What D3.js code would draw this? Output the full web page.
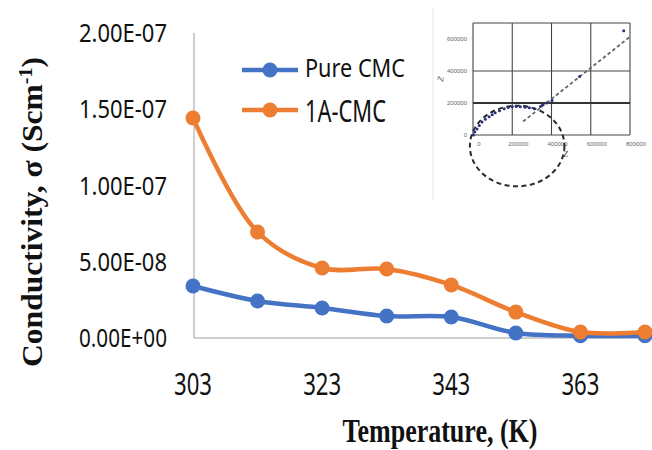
<!DOCTYPE html>
<html>
<head>
<meta charset="utf-8">
<script src="https://cdn.jsdelivr.net/npm/d3@7"></script>
<style>
  body { margin: 0; background: #fff; }
</style>
</head>
<body>
<div class="chart"></div>
<script>
// main chart data
const temps = [303, 313, 323, 333, 343, 353, 363, 373];
const pureCMC = [3.41e-8, 2.43e-8, 1.97e-8, 1.44e-8, 1.38e-8, 3.3e-9, 1.5e-9, 1.5e-9];
const cmc1A = [1.443e-7, 6.95e-8, 4.59e-8, 4.52e-8, 3.48e-8, 1.7e-8, 3.9e-9, 3.9e-9];
const seriesNames = ['Pure CMC', '1A-CMC'];
const xTicks = [303, 323, 343, 363];
const yTicks = [0, 5e-8, 1e-7, 1.5e-7, 2e-7];
const yTickLabels = ['0.00E+00', '5.00E-08', '1.00E-07', '1.50E-07', '2.00E-07'];

// inset (impedance plot) data
const insetRe = [2000, 9000, 20500, 32000, 46000, 63000, 82000, 98000, 113000, 135000, 159000, 180000, 200000, 220000, 241000, 265000, 287000, 313000, 344000, 354000, 375000, 403000, 543000, 768000];
const insetIm = [0, 18000, 38000, 60000, 82000, 99000, 114000, 127000, 139000, 152000, 164000, 172000, 177000, 178000, 177000, 174000, 170000, 164000, 178000, 189000, 200000, 215000, 366000, 652000];
const insetXTicks = [0, 200000, 400000, 600000, 800000];
const insetYTicks = [0, 200000, 400000, 600000];
const insetFit = [[255000, 84000], [803000, 617000]];
const insetCircle = {cx: 225000, cy: -69000, rx: 241000, ry: 252000};

const width = 652, height = 450;
const blue = '#4472c4', orange = '#ed7d31';

const svg = d3.select('.chart')
  .append('svg')
  .attr('width', width)
  .attr('height', height);

const xScale = d3.scaleLinear().domain([303, 373]).range([193, 645]);
const yScale = d3.scaleLinear().domain([0, 2e-7]).range([338, 33]);

// squeeze text to the width seen in the picture
function fit(text, len) {
  text.attr('textLength', len).attr('lengthAdjust', 'spacingAndGlyphs');
}

// axis lines
svg.append('line')
  .attr('x1', xScale(303) + 1).attr('x2', xScale(303) + 1)
  .attr('y1', yScale(2e-7)).attr('y2', yScale(0))
  .attr('stroke', '#bfbfbf').attr('stroke-width', 1.5);
svg.append('line')
  .attr('x1', xScale(303) + 1).attr('x2', width)
  .attr('y1', yScale(0)).attr('y2', yScale(0))
  .attr('stroke', '#bfbfbf').attr('stroke-width', 1.5);

// y tick labels
svg.selectAll('.ytick')
  .data(yTicks)
  .enter()
  .append('text')
  .attr('x', 167)
  .attr('y', d => yScale(d) + 9)
  .attr('text-anchor', 'end')
  .attr('font-family', 'Noto Sans')
  .attr('font-size', 25)
  .attr('fill', '#111')
  .text((d, i) => yTickLabels[i])
  .call(fit, 88);

// x tick labels
svg.selectAll('.xtick')
  .data(xTicks)
  .enter()
  .append('text')
  .attr('x', d => xScale(d))
  .attr('y', 395)
  .attr('text-anchor', 'middle')
  .attr('font-family', 'Noto Sans')
  .attr('font-size', 30)
  .attr('fill', '#111')
  .text(d => d)
  .call(fit, 38);

// axis titles
svg.append('text')
  .attr('transform', 'translate(42,212) rotate(-90)')
  .attr('text-anchor', 'middle')
  .attr('font-family', 'Liberation Serif')
  .attr('font-weight', 'bold')
  .attr('font-size', 30)
  .attr('fill', '#111')
  .call(t => {
    t.append('tspan').text('Conductivity, σ (Scm');
    t.append('tspan').attr('font-size', 19).attr('dy', -10).text('-1');
    t.append('tspan').attr('dy', 10).text(')');
  })
  .call(fit, 310);

svg.append('text')
  .attr('x', 440)
  .attr('y', 442)
  .attr('text-anchor', 'middle')
  .attr('font-family', 'Liberation Serif')
  .attr('font-weight', 'bold')
  .attr('font-size', 33)
  .attr('fill', '#111')
  .text('Temperature, (K)')
  .call(fit, 195);

// lines
const line = d3.line()
  .x((d, i) => xScale(temps[i]))
  .y(d => yScale(d))
  .curve(d3.curveCatmullRom);

const series = [
  {name: seriesNames[0], values: pureCMC, color: blue},
  {name: seriesNames[1], values: cmc1A, color: orange}
];

series.forEach(s => {
  svg.append('path')
    .datum(s.values)
    .attr('fill', 'none')
    .attr('stroke', s.color)
    .attr('stroke-width', 4.5)
    .attr('d', line);
  svg.selectAll('.pt')
    .data(s.values)
    .enter()
    .append('circle')
    .attr('cx', (d, i) => xScale(temps[i]))
    .attr('cy', d => yScale(d))
    .attr('r', 7.5)
    .attr('fill', s.color);
});

// legend
const legend = [
  {y: 70, base: 77, cap: 26, len: 100},
  {y: 110, base: 122, cap: 31, len: 81}
];
series.forEach((s, i) => {
  const l = legend[i];
  svg.append('line')
    .attr('x1', 242).attr('x2', 298)
    .attr('y1', l.y).attr('y2', l.y)
    .attr('stroke', s.color).attr('stroke-width', 4.5);
  svg.append('circle')
    .attr('cx', 270).attr('cy', l.y).attr('r', 7.5)
    .attr('fill', s.color);
  svg.append('text')
    .attr('x', 305).attr('y', l.base)
    .attr('font-family', 'Noto Sans')
    .attr('font-size', l.cap)
    .attr('fill', '#111')
    .text(s.name)
    .call(fit, l.len);
});

// inset
const ix = d3.scaleLinear().domain([0, 800000]).range([473, 630]);
const iy = d3.scaleLinear().domain([0, 700000]).range([135, 23]);
const inset = svg.append('g');

inset.append('line')
  .attr('x1', 433).attr('x2', 433).attr('y1', 8).attr('y2', 200)
  .attr('stroke', '#e6e6e6').attr('stroke-width', 1);

inset.selectAll('.ivgrid')
  .data(insetXTicks)
  .enter()
  .append('line')
  .attr('x1', d => ix(d)).attr('x2', d => ix(d))
  .attr('y1', iy(700000)).attr('y2', iy(0))
  .attr('stroke', '#444').attr('stroke-width', 1.1);

inset.selectAll('.ihgrid')
  .data([0, 200000, 400000, 700000])
  .enter()
  .append('line')
  .attr('x1', ix(0)).attr('x2', ix(800000))
  .attr('y1', d => iy(d)).attr('y2', d => iy(d))
  .attr('stroke', d => d === 200000 ? '#333' : '#444')
  .attr('stroke-width', d => d === 200000 ? 1.8 : 1.1);

inset.selectAll('.iylab')
  .data(insetYTicks)
  .enter()
  .append('text')
  .attr('x', 467).attr('y', d => iy(d) + 2)
  .attr('text-anchor', 'end')
  .attr('font-family', 'Liberation Sans')
  .attr('font-size', 6)
  .attr('fill', '#666')
  .text(d => d);

inset.selectAll('.ixlab')
  .data(insetXTicks)
  .enter()
  .append('text')
  .attr('x', d => ix(d) + 6).attr('y', 146)
  .attr('text-anchor', 'middle')
  .attr('font-family', 'Liberation Sans')
  .attr('font-size', 6)
  .attr('fill', '#666')
  .text(d => d);

inset.append('text')
  .attr('transform', 'translate(443,82) rotate(-80)')
  .attr('font-family', 'Liberation Serif')
  .attr('font-style', 'italic')
  .attr('font-size', 9)
  .attr('fill', '#555')
  .text('Z');

inset.append('text')
  .attr('x', 563).attr('y', 157)
  .attr('font-family', 'Liberation Serif')
  .attr('font-style', 'italic')
  .attr('font-size', 9)
  .attr('fill', '#555')
  .text('Z');

inset.append('ellipse')
  .attr('cx', ix(insetCircle.cx))
  .attr('cy', iy(insetCircle.cy))
  .attr('rx', ix(insetCircle.rx) - ix(0))
  .attr('ry', iy(0) - iy(insetCircle.ry))
  .attr('fill', 'none')
  .attr('stroke', '#2b2b2b')
  .attr('stroke-width', 2)
  .attr('stroke-dasharray', '5,3.5');

inset.append('line')
  .attr('x1', ix(insetFit[0][0])).attr('y1', iy(insetFit[0][1]))
  .attr('x2', ix(insetFit[1][0])).attr('y2', iy(insetFit[1][1]))
  .attr('stroke', '#666')
  .attr('stroke-width', 1.8)
  .attr('stroke-dasharray', '3.5,2.5');

inset.selectAll('.ipt')
  .data(insetRe)
  .enter()
  .append('circle')
  .attr('cx', d => ix(d))
  .attr('cy', (d, i) => iy(insetIm[i]))
  .attr('r', 1.5)
  .attr('fill', '#28307a');
</script>
</body>
</html>
